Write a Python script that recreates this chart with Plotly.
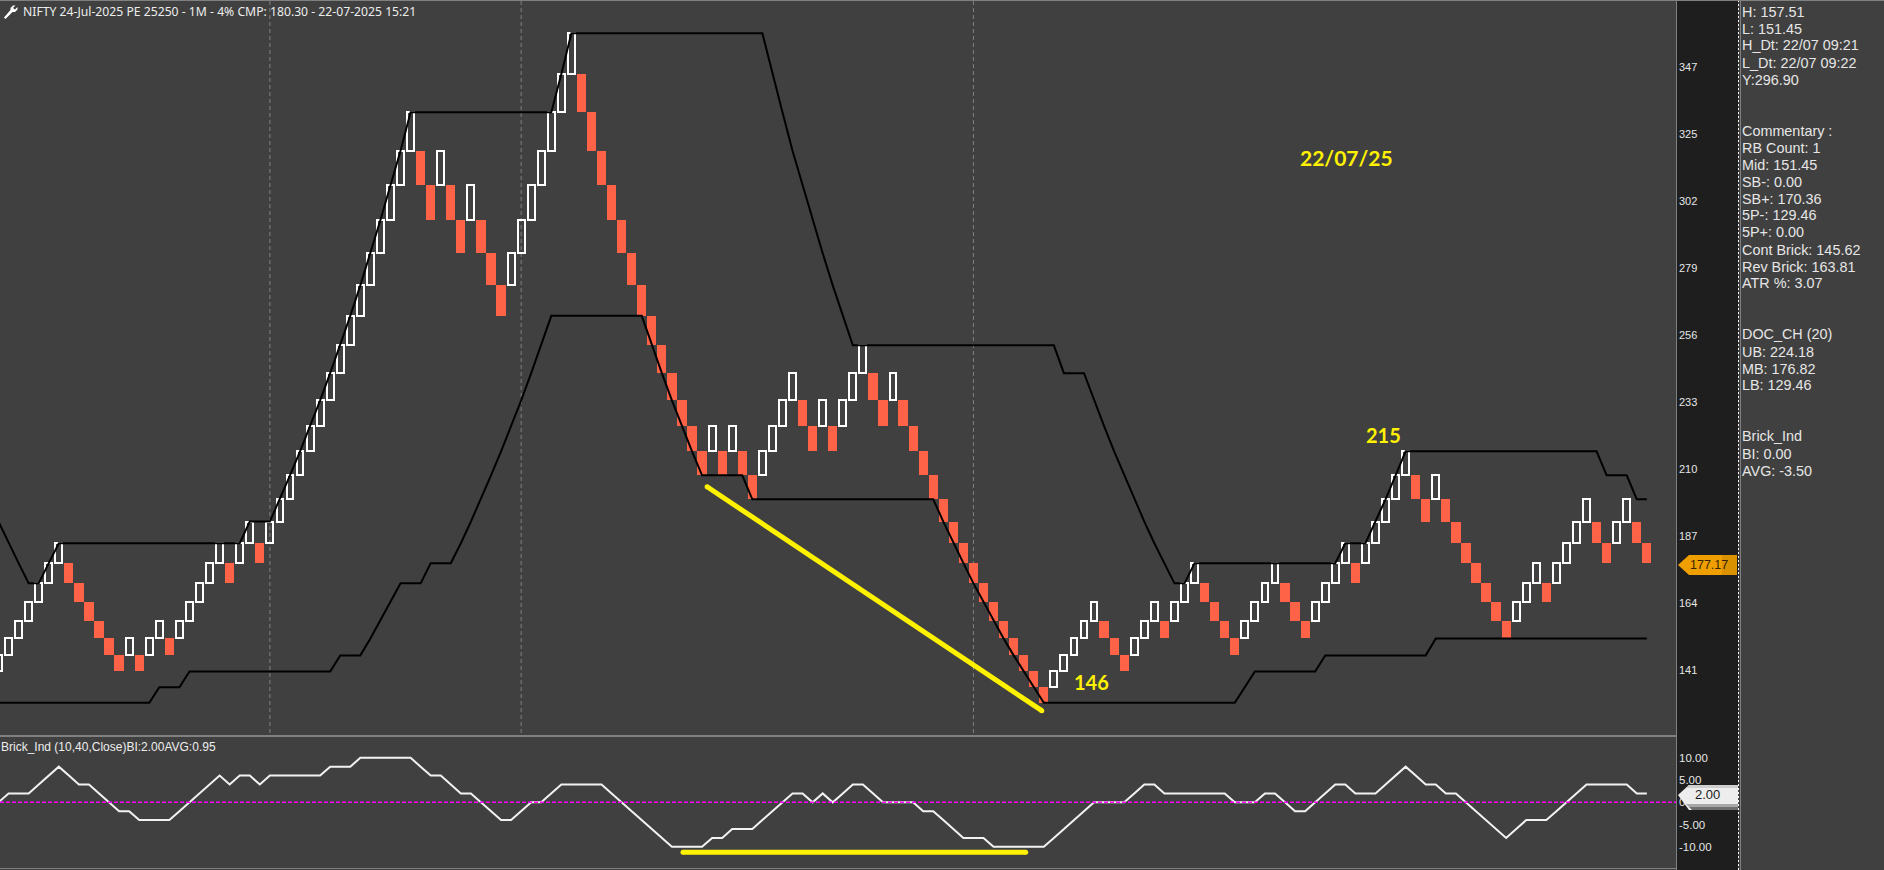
import plotly.graph_objects as go

W, H = 1884, 870
BG = "#404040"
AXIS_BG = "#1e1e1e"
RED = "#FF6347"
YELLOW = "#FFF200"

# Renko grid: 4% brick boundaries
levels = [358.9, 345.0, 331.9, 318.8, 307.0, 295.1, 283.8, 272.8, 262.4, 252.3,
          242.8, 233.5, 224.7, 216.1, 207.9, 199.7, 192.1, 184.7, 177.9, 171.0,
          164.6, 158.3, 152.2, 146.4, 140.9, 135.5, 130.2]

# Row of each brick (row r spans levels[r]..levels[r+1])
brick_row = [23,22,21,20,19,18,17,18,19,20,
             21,22,23,22,23,22,21,22,21,20,
             19,18,17,18,17,16,17,16,15,14,
             13,12,11,10,9,8,7,6,5,4,
             3,2,3,4,3,4,5,4,5,6,
             7,6,5,4,3,2,1,0,1,2,
             3,4,5,6,7,8,9,10,11,12,
             13,12,13,12,13,14,13,12,11,10,
             11,12,11,12,11,10,9,10,11,10,
             11,12,13,14,15,16,17,18,19,20,
             21,22,23,24,25,24,23,22,21,20,
             21,22,23,22,21,20,21,20,19,18,
             19,20,21,22,21,20,19,18,19,20,
             21,20,19,18,17,18,17,16,15,14,
             13,14,15,14,15,16,17,18,19,20,
             21,20,19,18,19,18,17,16,15,16,
             17,16,15,16,17]
brick_dir = ("uuuuuuuddd" "dddudUUdUU" "uuuduuduuu" "uuuuuuuuuu"
             "uuddudduDD" "duuuuuuudd" "dddddddddd" "dududduuuu"
             "dduduuuddu" "dddddddddd" "ddddduuuuu" "dddUUUdUUu"
             "dddduuuudd" "duuuuduuuu" "uddudddddd" "duuuduuuud"
             "duudd").lower()

upper_k = [0,1,2,3,4,5,6,24,25,27,28,29,30,31,32,33,34,35,36,37,38,39,40,41,55,56,57,76,
           77,78,79,80,81,82,83,84,85,105,106,108,109,110,111,112,113,114,115,116,117,118,
           119,133,134,136,137,138,139,140,159,160,162,163,164]
upper_level = [16,17,18,19,19,18,17,17,16,16,15,14,13,12,11,10,9,8,7,6,5,4,3,2,2,1,0,0,
               1,2,3,4,5,6,7,8,9,9,10,10,11,12,13,14,15,16,17,18,19,19,
               18,18,17,17,16,15,14,13,13,14,14,15,15]
lower_k = [0,15,16,18,19,33,34,36,37,38,39,40,42,43,45,46,47,48,49,50,51,52,53,54,55,64,
           65,66,67,68,69,70,74,75,93,94,95,96,97,98,99,100,101,102,103,104,123,124,125,
           131,132,142,143,164]
lower_level = [26,26,25,25,24,24,23,23,22,21,20,19,19,18,18,17,16,15,14,13,12,11,10,9,8,8,
               9,10,11,12,13,14,14,15,15,16,17,18,19,20,21,22,23,24,25,26,26,25,24,
               24,23,23,22,22]

brick_ind = [0,2,2,2,4,6,8,6,4,4,
             2,0,-2,-2,-4,-4,-4,-4,-2,0,
             2,4,6,4,6,6,4,6,6,6,
             6,6,6,8,8,8,10,10,10,10,
             10,10,8,6,6,4,2,2,0,-2,
             -4,-4,-2,0,0,2,4,4,4,4,
             4,2,0,-2,-4,-6,-8,-10,-10,-10,
             -10,-8,-8,-6,-6,-6,-4,-2,0,2,
             2,0,2,0,2,4,4,2,0,0,
             0,0,-2,-2,-4,-6,-8,-8,-8,-10,
             -10,-10,-10,-10,-10,-8,-6,-4,-2,0,
             0,0,0,2,4,4,2,2,2,2,
             2,2,2,0,0,0,2,2,0,-2,
             -2,0,2,4,4,2,2,2,4,6,
             8,6,4,4,2,2,0,-2,-4,-6,
             -8,-6,-4,-4,-4,-2,0,2,4,4,
             4,4,4,2,2]

session_breaks = [27, 52, 97]
trend_x, trend_y = [70.5, 103.8], [204.0, 127.5]
under_x, under_y = [68.1, 102.2], [-11.24, -11.24]

price_ticks = [347.5, 324.6, 301.7, 278.8, 255.9, 233.0, 210.1, 187.2, 164.3, 141.4]
price_labels = ["347", "325", "302", "279", "256", "233", "210", "187", "164", "141"]
ind_ticks = [10, 5, 0, -5, -10]
ind_labels = ["10.00", "5.00", "0.00", "-5.00", "-10.00"]

title_text = "NIFTY 24-Jul-2025 PE 25250 - 1M - 4% CMP: 180.30 - 22-07-2025 15:21"
ind_title = "Brick_Ind (10,40,Close)BI:2.00AVG:0.95"
info_lines = ["H: 157.51", "L: 151.45", "H_Dt: 22/07 09:21", "L_Dt: 22/07 09:22", "Y:296.90", "", "",
              "Commentary :", "RB Count: 1", "Mid: 151.45", "SB-: 0.00", "SB+: 170.36", "5P-: 129.46",
              "5P+: 0.00", "Cont Brick: 145.62", "Rev Brick: 163.81", "ATR %: 3.07", "", "",
              "DOC_CH (20)", "UB: 224.18", "MB: 176.82", "LB: 129.46", "", "",
              "Brick_Ind", "BI: 0.00", "AVG: -3.50"]
yellow_notes = [("22/07/25", 1346, 157, 21), ("146", 1091.5, 682, 20), ("215", 1383.5, 434.5, 20)]


def px(x):
    return x / W


def py(y):
    return 1 - y / H


ups = [i for i, d in enumerate(brick_dir) if d == "u"]
downs = [i for i, d in enumerate(brick_dir) if d == "d"]
fig = go.Figure()
fig.add_trace(go.Bar(x=downs, base=[levels[brick_row[i] + 1] for i in downs],
                     y=[levels[brick_row[i]] - levels[brick_row[i] + 1] for i in downs],
                     width=0.92, marker=dict(color=RED, line=dict(width=0))))
fig.add_trace(go.Bar(x=ups, base=[levels[brick_row[i] + 1] for i in ups],
                     y=[levels[brick_row[i]] - levels[brick_row[i] + 1] for i in ups],
                     width=0.68, marker=dict(color="rgba(0,0,0,0)", line=dict(color="white", width=2))))
fig.add_trace(go.Scatter(x=upper_k, y=[levels[i] for i in upper_level], mode="lines",
                         line=dict(color="black", width=2)))
fig.add_trace(go.Scatter(x=lower_k, y=[levels[i] for i in lower_level], mode="lines",
                         line=dict(color="black", width=2)))
fig.add_trace(go.Scatter(x=trend_x, y=trend_y, mode="lines+markers",
                         line=dict(color=YELLOW, width=5), marker=dict(color=YELLOW, size=5)))
fig.add_trace(go.Scatter(x=list(range(len(brick_ind))), y=brick_ind, mode="lines", xaxis="x2", yaxis="y2",
                         line=dict(color="#f2f2f2", width=2)))
fig.add_trace(go.Scatter(x=under_x, y=under_y, mode="lines+markers", xaxis="x2", yaxis="y2",
                         line=dict(color=YELLOW, width=5), marker=dict(color=YELLOW, size=5)))

x_range = [0.149, 166.9]
x_dom = [0, px(1676)]
shapes = [
    dict(type="rect", xref="paper", yref="paper", x0=px(1677), x1=px(1738), y0=0, y1=1,
         fillcolor=AXIS_BG, line_width=0, layer="below"),
    dict(type="line", xref="paper", yref="paper", x0=px(1738.5), x1=px(1738.5), y0=0, y1=1,
         line=dict(color="white", width=1, dash="2px,2px"), layer="above"),
    dict(type="line", xref="paper", yref="paper", x0=px(1740.5), x1=px(1740.5), y0=0, y1=1,
         line=dict(color="#808080", width=1), layer="above"),
    dict(type="line", xref="paper", yref="paper", x0=px(1676.5), x1=px(1676.5), y0=0, y1=1,
         line=dict(color="#808080", width=1), layer="above"),
    dict(type="line", xref="paper", yref="paper", x0=0, x1=px(1676), y0=py(736), y1=py(736),
         line=dict(color="#808080", width=2), layer="above"),
    dict(type="line", xref="paper", yref="paper", x0=0, x1=px(1676), y0=py(868.5), y1=py(868.5),
         line=dict(color="#808080", width=1), layer="above"),
    dict(type="line", xref="paper", yref="paper", x0=0, x1=px(1884), y0=py(0.5), y1=py(0.5),
         line=dict(color="#808080", width=1), layer="above"),
    dict(type="line", xref="x2", yref="y2", x0=x_range[0], x1=x_range[1], y0=0, y1=0,
         line=dict(color="#FF00FF", width=1.4, dash="4px,2px"), layer="above"),
]
for b in session_breaks:
    shapes.append(dict(type="line", xref="x", yref="paper", x0=b, x1=b, y0=py(733), y1=py(1),
                       line=dict(color="#7f7f7f", width=1, dash="4px,3px"), layer="below"))


def poly(points, fill):
    d = "M " + " L ".join(f"{px(x):.6f},{py(y):.6f}" for x, y in points) + " Z"
    return dict(type="path", xref="paper", yref="paper", path=d, fillcolor=fill, line_width=0, layer="above")


# wrench icon
shapes.append(poly([(4, 17.5), (5.5, 19), (12.5, 12), (15, 12), (17.5, 9.5), (17.5, 7), (15, 9.5),
                    (13, 8), (15.5, 5.5), (13, 5.5), (10.5, 8), (10.5, 10)], "white"))
# price tag
shapes.append(poly([(1678, 565), (1689, 555), (1737, 555), (1737, 575), (1689, 575)], "#EFA000"))
shapes.append(poly([(1722, 555), (1737, 555), (1737, 575), (1722, 575)], "#DB9200"))
# indicator tag
shapes.append(poly([(1678, 795), (1689, 785), (1738, 785), (1738, 810), (1689, 810)], "#EDEDED"))
shapes.append(poly([(1689, 785), (1738, 785), (1738, 788), (1686, 788)], "#CFCFCF"))
shapes.append(poly([(1686, 804), (1738, 804), (1738, 807), (1689, 807)], "#A8A8A8"))
shapes.append(poly([(1689, 807), (1738, 807), (1738, 810), (1692, 810)], "#6E6E6E"))

annotations = []


def note(text, x, y, size, color, family, anchor="left", bold=False):
    annotations.append(dict(text=f"<b>{text}</b>" if bold else text, xref="paper", yref="paper",
                            x=px(x), y=py(y), showarrow=False, xanchor=anchor, yanchor="middle",
                            borderpad=0, borderwidth=0, font=dict(size=size, color=color, family=family)))


note(title_text, 22.5, 11.5, 12.2, "#ededed", "Noto Sans")
note(ind_title, 1, 746.5, 12, "#ededed", "Liberation Sans")
for i, line in enumerate(info_lines):
    if line:
        note(line, 1742.3, 11.5 + 17 * i, 14.4, "#e6e6e6", "Liberation Sans")
for text, x, y, size in yellow_notes:
    note(text, x, y, size, YELLOW, "Lato", anchor="center", bold=True)
note("177.17", 1709, 565, 12.5, "#3a2400", "Liberation Sans", anchor="center")
note("2.00", 1707, 794, 13, "#1a1a1a", "Liberation Sans", anchor="center")

fig.update_layout(
    width=W, height=H, margin=dict(l=0, r=0, t=0, b=0), paper_bgcolor=BG, plot_bgcolor=BG,
    showlegend=False, barmode="overlay", bargap=0, hovermode=False,
    xaxis=dict(domain=x_dom, range=x_range, visible=False, fixedrange=True),
    xaxis2=dict(domain=x_dom, range=x_range, visible=False, anchor="y2", fixedrange=True),
    yaxis=dict(domain=[py(735), 1], range=[119.2, 370.28], side="right", showgrid=False, zeroline=False,
               showline=False, ticks="", tickmode="array", tickvals=price_ticks, ticktext=price_labels,
               ticklabelstandoff=2, tickfont=dict(size=11, color="#e6e6e6", family="Liberation Sans"),
               fixedrange=True),
    yaxis2=dict(domain=[py(868), py(737)], range=[-14.76, 14.67], side="right", anchor="x2", showgrid=False,
                zeroline=False, showline=False, ticks="", tickmode="array", tickvals=ind_ticks,
                ticktext=ind_labels, ticklabelstandoff=2,
                tickfont=dict(size=11.5, color="#e6e6e6", family="Liberation Sans"), fixedrange=True),
    shapes=shapes, annotations=annotations,
)
fig.write_html("out.html", config={"displayModeBar": False},
               post_script="document.body.style.margin='0';document.body.style.overflow='hidden';")
